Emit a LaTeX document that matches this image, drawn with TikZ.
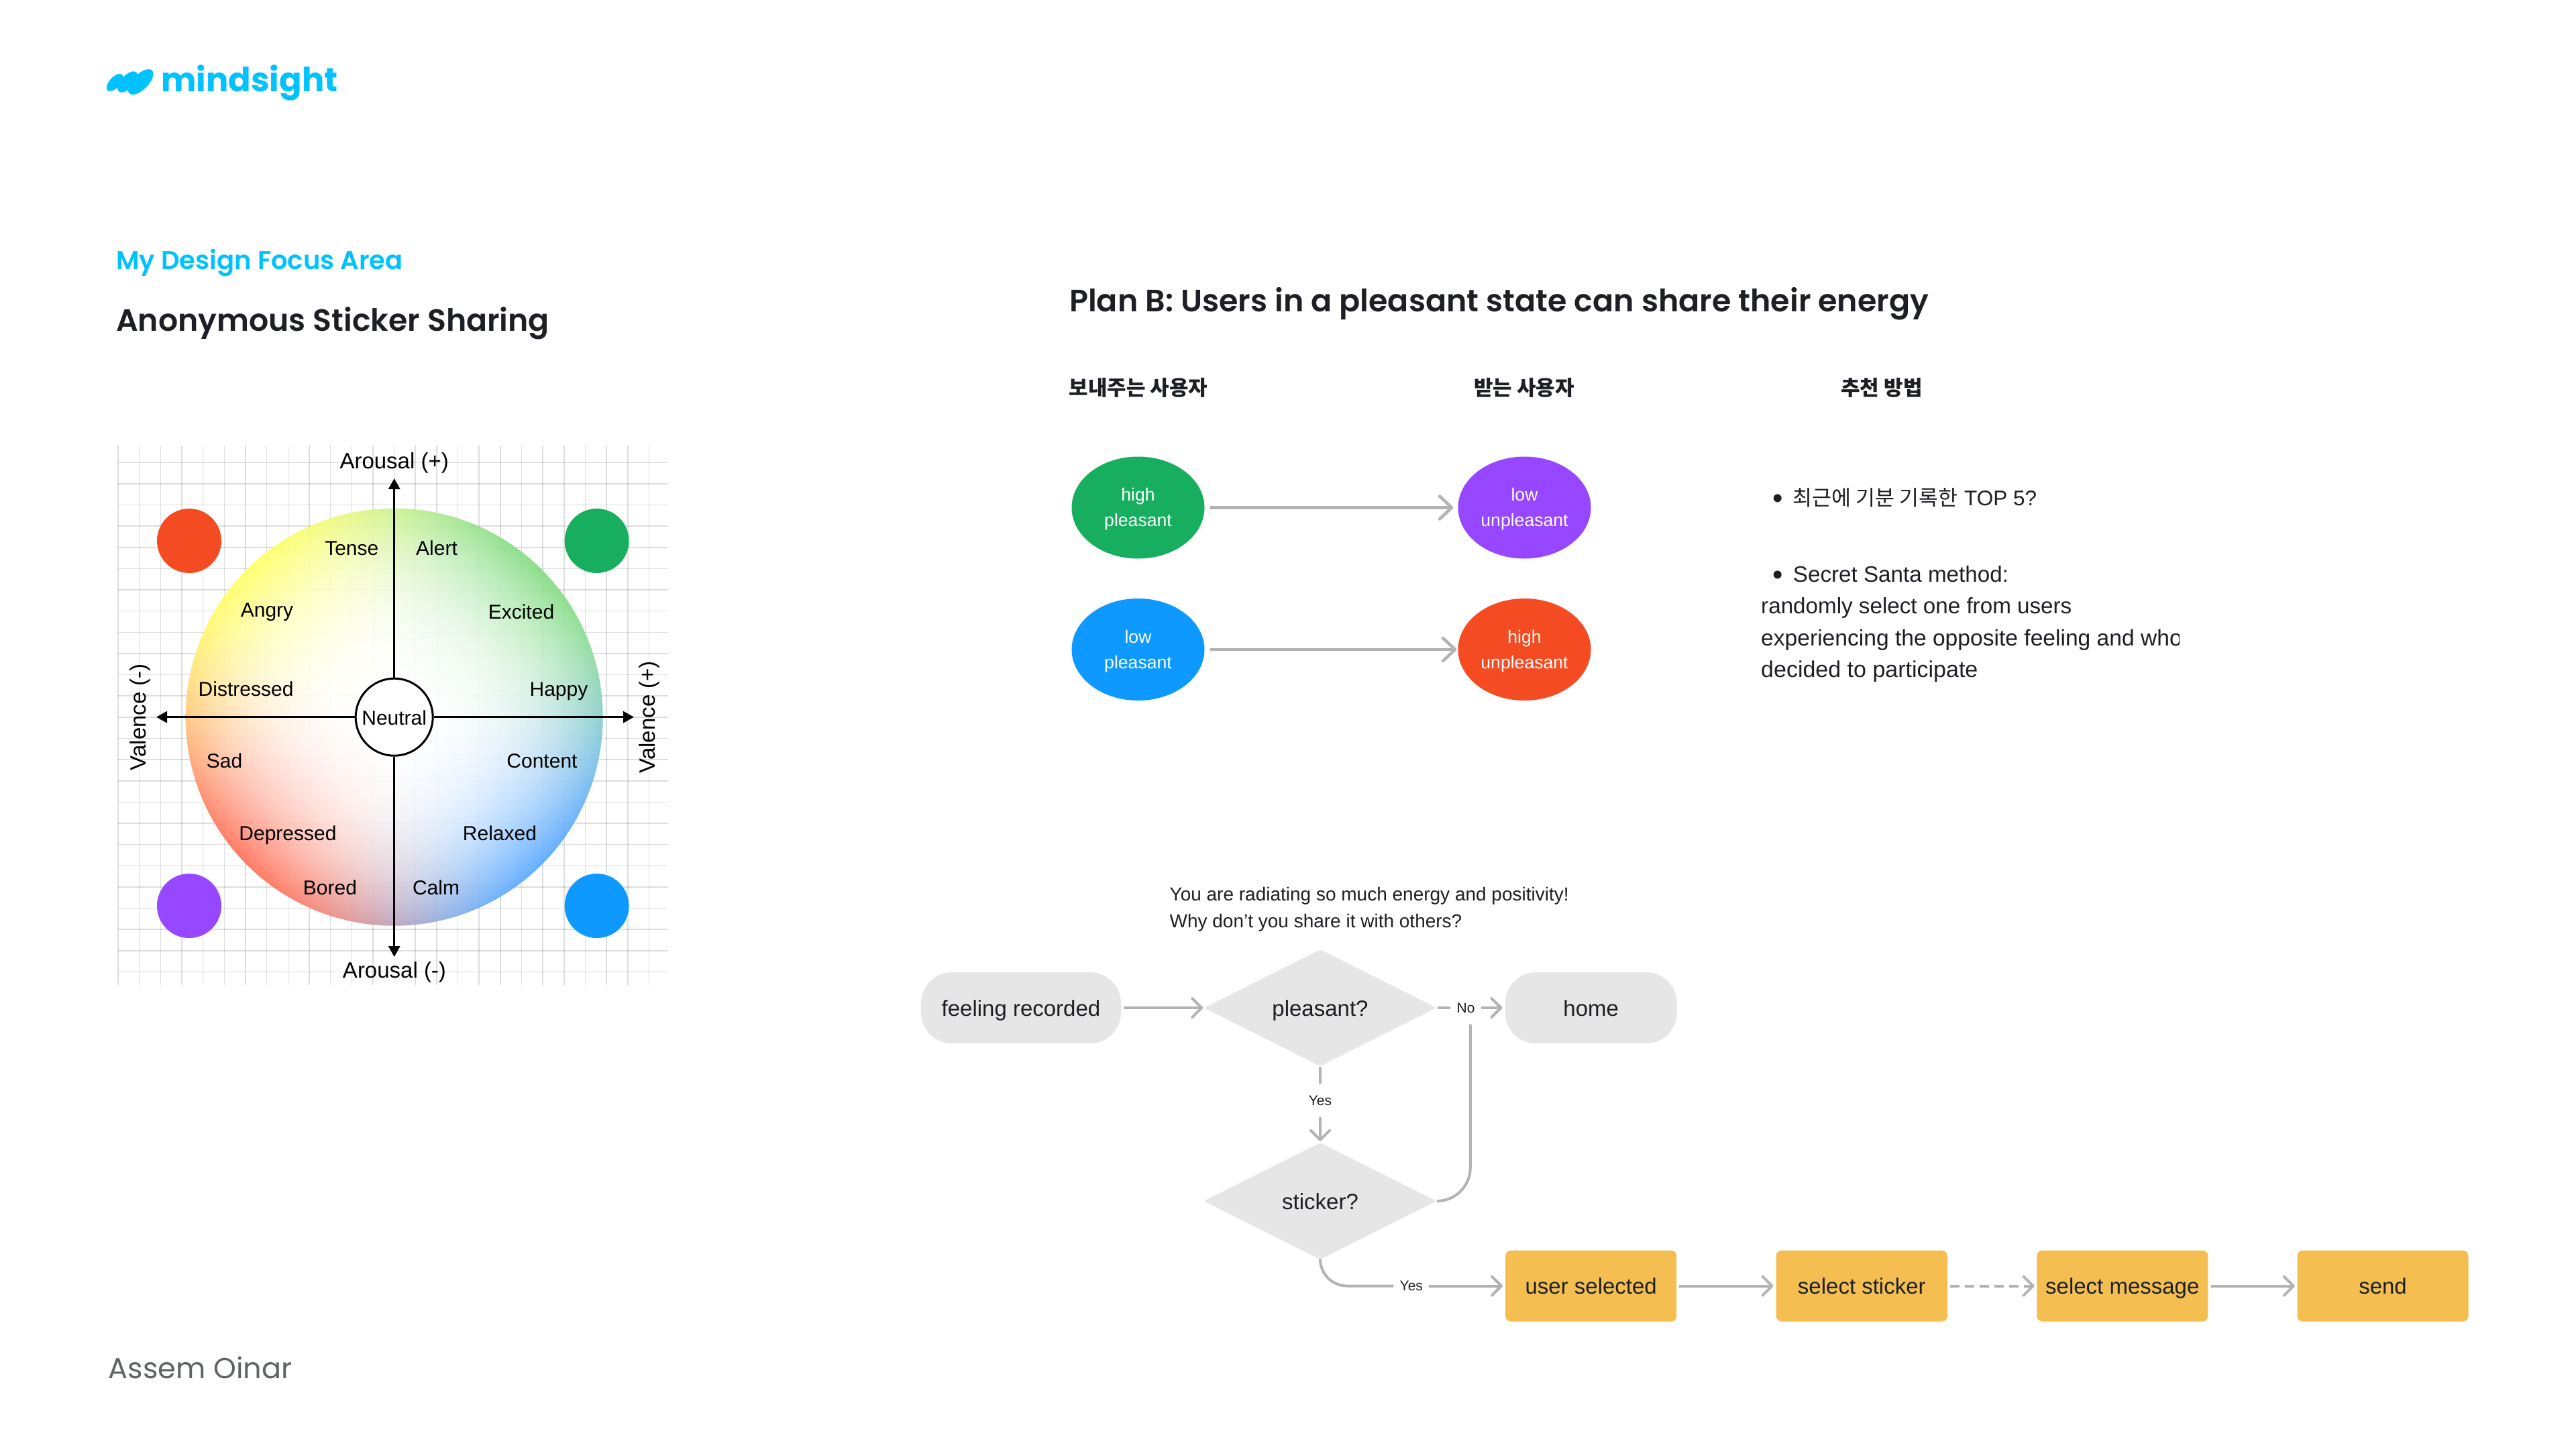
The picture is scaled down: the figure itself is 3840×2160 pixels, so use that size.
\documentclass[tikz,border=0pt]{standalone}
\usepackage{fontspec}
\usetikzlibrary{arrows.meta,shapes.geometric,calc}
\setmainfont{Liberation Sans}
\newfontfamily\headfont{Poppins SemiBold}
\newfontfamily\authorfont{Poppins}
\newfontfamily\krfont{Noto Sans CJK KR}
\newfontfamily\chartfont{Liberation Sans}
\definecolor{skyb}{HTML}{00C2FF}
\definecolor{inkc}{HTML}{1E1F24}
\definecolor{graya}{HTML}{5F6363}
\definecolor{greene}{HTML}{17AF5F}
\definecolor{purplee}{HTML}{9747FF}
\definecolor{bluee}{HTML}{0D99FF}
\definecolor{rede}{HTML}{F44B22}
\definecolor{boxgray}{HTML}{E6E6E6}
\definecolor{boxgold}{HTML}{F4BF50}
\definecolor{linegray}{HTML}{B3B3B3}
\newcommand{\bigdot}{\raisebox{-4pt}{\fontsize{44}{47}\selectfont •}}
\pgfdeclarefunctionalshading{quadwheel}{\pgfpoint{0bp}{0bp}}{\pgfpoint{100bp}{100bp}}{}{
50 sub 25 div exch 50 sub 25 div exch
2 copy add 0.7071 mul 3 1 roll exch sub 0.7071 mul
exch dup abs 2 copy add 2 div 2.6 exp 3 1 roll exch sub 2 div 2.6 exp
3 2 roll dup abs 2 copy add 2 div 2.6 exp 3 1 roll exch sub 2 div 2.6 exp
1 4 index 0.50 mul sub 3 index 0.00 mul sub 2 index 0.00 mul sub 1 index 0.67 mul sub
1 5 index 0.14 mul sub 4 index 0.57 mul sub 3 index 0.00 mul sub 2 index 0.35 mul sub
1 6 index 0.50 mul sub 5 index 0.67 mul sub 4 index 0.62 mul sub 3 index 0.00 mul sub
7 3 roll pop pop pop pop
}
\tikzset{
  x=1pt,y=-1pt,
  chartlabel/.style={font=\chartfont\fontsize{30}{36}\selectfont,anchor=base,inner sep=0pt,text=black},
  axislabel/.style={font=\chartfont\fontsize{33}{38}\selectfont,anchor=base,inner sep=0pt,text=black},
  dot/.style={circle,minimum size=96pt,inner sep=0pt,draw=none},
  gridline/.style={black,opacity=.13,line width=1.5pt},
  axisline/.style={black,line width=3pt,-{Triangle[length=16pt,width=17pt]}},
  collhead/.style={font=\krfont\bfseries\fontsize{31}{36}\selectfont,text=inkc,anchor=center,inner sep=0pt},
  mood/.style={ellipse,minimum width=198pt,minimum height=152pt,inner sep=0pt,text=white,align=center,
    font=\fontsize{26.6}{38}\selectfont},
  bigflow/.style={linegray,line width=4.5pt,-{Straight Barb[length=18pt,width=34pt,round]}},
  flow/.style={linegray,line width=4pt,-{Straight Barb[length=14pt,width=28pt,round]}},
  flowplain/.style={linegray,line width=4pt},
  fltext/.style={font=\fontsize{33}{40}\selectfont,text=inkc,text height=26pt,text depth=2pt,inner sep=0pt},
  pill/.style={fltext,fill=boxgray,rounded corners=46pt,minimum height=106pt},
  decision/.style={fltext,diamond,fill=boxgray,rounded corners=4pt,aspect=2,minimum width=347pt,minimum height=174pt},
  stepbox/.style={fltext,fill=boxgold,rounded corners=8pt,minimum width=255pt,minimum height=106pt},
  tinylabel/.style={font=\fontsize{21}{24}\selectfont,text=inkc,inner sep=9pt},
  bodyline/.style={font=\fontsize{33.2}{47}\selectfont,text=inkc,anchor=base west,inner sep=0pt},
  noteline/.style={font=\fontsize{28}{40}\selectfont,text=inkc,anchor=base west,inner sep=0pt},
}
\begin{document}
\begin{tikzpicture}
\useasboundingbox (0,0) rectangle (3840,2160);
\fill[white] (0,0) rectangle (3840,2160);
% logo
\fill[skyb,rotate around={47:(171.2,123)}] (171.2,123) ellipse [x radius=16pt,y radius=8pt];
\fill[skyb,rotate around={47:(190,122)}] (190,122) ellipse [x radius=19.5pt,y radius=9.5pt];
\fill[skyb,rotate around={45:(209.7,122)}] (209.7,122) ellipse [x radius=24pt,y radius=11.5pt];
\node[font=\authorfont\bfseries\fontsize{49.5}{60}\selectfont,text=skyb,anchor=base west,inner sep=0pt] (logo) at (240,136.7) {mindsight};
% titles
\node[font=\headfont\fontsize{38.5}{46}\selectfont,text=skyb,anchor=base west,inner sep=0pt] (focus) at (173,401.7) {My Design Focus Area};
\node[font=\headfont\fontsize{45.8}{54}\selectfont,text=inkc,anchor=base west,inner sep=0pt] (anon) at (173,493) {Anonymous Sticker Sharing};
\node[font=\headfont\fontsize{46}{54}\selectfont,text=inkc,anchor=base west,inner sep=0pt] (planb) at (1594,464) {Plan B: Users in a pleasant state can share their energy};
\node[font=\authorfont\fontsize{43}{54}\selectfont,text=graya,anchor=base west,inner sep=0pt] (author) at (161.7,2054) {Assem Oinar};
% chart
\foreach \k in {0,...,25} \draw[gridline] ({176+31.66*\k},664.4) -- ({176+31.66*\k},1468);
\foreach \k in {0,...,24} \draw[gridline] (176,{689.3+31.63*\k}) -- (996,{689.3+31.63*\k});
\shade[shading=quadwheel,fill opacity=.9] (587.7,1068.7) circle [radius=311pt];
\node[dot,fill=rede] (dotred) at (282,806) {};
\node[dot,fill=greene] (dotgreen) at (889.6,806) {};
\node[dot,fill=purplee] (dotpurple) at (282,1350) {};
\node[dot,fill=bluee] (dotblue) at (889.6,1350) {};
\node[circle,draw=black,line width=3pt,fill=white,minimum size=115pt,inner sep=0pt] (neutral) at (587.7,1068.7) {};
\coordinate (axtop) at (587.7,713);
\coordinate (axbot) at (587.7,1426);
\coordinate (axleft) at (233,1068.7);
\coordinate (axright) at (945,1068.7);
\draw[axisline] (neutral) -- (axtop);
\draw[axisline] (neutral) -- (axbot);
\draw[axisline] (neutral) -- (axleft);
\draw[axisline] (neutral) -- (axright);
\node[chartlabel] (lneutral) at (587.7,1080) {Neutral};
\node[axislabel] (larop) at (587.7,698.5) {Arousal (+)};
\node[axislabel] (laron) at (588,1457.3) {Arousal (-)};
\node[chartlabel] (ltense) at (524.3,827) {Tense};
\node[chartlabel] (lalert) at (651,827) {Alert};
\node[chartlabel] (langry) at (398,919) {Angry};
\node[chartlabel] (lexcited) at (777,922.4) {Excited};
\node[chartlabel] (ldistressed) at (366.6,1037.3) {Distressed};
\node[chartlabel] (lhappy) at (833,1037.3) {Happy};
\node[chartlabel] (lsad) at (334.6,1144) {Sad};
\node[chartlabel] (lcontent) at (808,1144) {Content};
\node[chartlabel] (ldepressed) at (429,1252.5) {Depressed};
\node[chartlabel] (lrelaxed) at (745,1252.5) {Relaxed};
\node[chartlabel] (lbored) at (492,1333.8) {Bored};
\node[chartlabel] (lcalm) at (650,1333.8) {Calm};
\node[axislabel,rotate=90] (lvaln) at (217,1068.7) {Valence (-)};
\node[axislabel,rotate=90] (lvalp) at (976,1068.7) {Valence (+)};
% plan B columns
\node[collhead] (headsend) at (1697,578) {보내주는 사용자};
\node[collhead] (headrecv) at (2272,578) {받는 사용자};
\node[collhead] (headhow) at (2805,578) {추천 방법};
\node[mood,fill=greene] (hp) at (1696.5,756.5) {\rule{0pt}{24pt}high\\pleasant};
\node[mood,fill=purplee] (lu) at (2272.5,756.5) {\rule{0pt}{24pt}low\\unpleasant};
\node[mood,fill=bluee] (lp) at (1696.5,968) {\rule{0pt}{24pt}low\\pleasant};
\node[mood,fill=rede] (hu) at (2272.5,968) {\rule{0pt}{24pt}high\\unpleasant};
\draw[bigflow,shorten <=8pt,shorten >=7pt] (hp) -- (lu);
\draw[bigflow,shorten <=8pt,shorten >=2pt] (lp) -- (hu);
% notes
\node[bodyline] (n1) at (2642,753.5) {\makebox[30.7pt][l]{\bigdot}{\krfont\fontsize{31.5}{47}\selectfont 최근에 기분 기록한} {\fontsize{31.5}{47}\selectfont TOP 5?}};
\node[bodyline] (n2) at (2642,867) {\makebox[30.7pt][l]{\bigdot}Secret Santa method:};
\node[bodyline] (n3) at (2625,914.5) {randomly select one from users};
\begin{scope}
\clip (2600,920) rectangle (3248,980);
\node[bodyline,font=\fontsize{33.6}{47}\selectfont] (n4) at (2625,962) {experiencing the opposite feeling and who};
\end{scope}
\node[bodyline,font=\fontsize{34}{47}\selectfont] (n5) at (2625,1009) {decided to participate};
\node[noteline] (q1) at (1743.4,1342) {You are radiating so much energy and positivity!};
\node[noteline] (q2) at (1743.4,1382) {Why don’t you share it with others?};
% flow
\node[pill,minimum width=298pt] (felt) at (1522,1502) {feeling recorded};
\node[decision] (pleas) at (1968,1502) {pleasant?};
\node[pill,minimum width=256pt] (home) at (2371.7,1502) {home};
\node[decision] (stick) at (1968,1790) {sticker?};
\node[stepbox] (user) at (2371.7,1916.5) {user selected};
\node[stepbox] (sel1) at (2775.3,1916.5) {select sticker};
\node[stepbox] (sel2) at (3163.8,1916.5) {select message};
\node[stepbox] (send) at (3552,1916.5) {send};
\node[tinylabel] (lno) at (2185,1502) {No};
\node[tinylabel,inner sep=0pt,minimum height=49pt] (lyes1) at (1968,1640) {Yes};
\node[tinylabel] (lyes2) at (2103.8,1916.5) {Yes};
\coordinate (mergeend) at (2191.8,1526.6);
\draw[flow,shorten <=4pt,shorten >=1pt] (felt) -- (pleas);
\draw[flowplain,shorten <=1pt] (pleas) -- (lno);
\draw[flow,shorten >=4pt] (lno) -- (home);
\draw[flowplain,shorten <=1pt] (pleas) -- (lyes1);
\draw[flow,shorten >=2pt] (lyes1) -- (stick);
\draw[flowplain,rounded corners=50pt,shorten <=1pt] (stick.east) -| (mergeend);
\draw[flowplain,rounded corners=40pt,shorten <=1pt] (stick.south) |- (lyes2.west);
\draw[flow,shorten >=4pt] (lyes2) -- (user);
\draw[flow,shorten <=3.5pt,shorten >=4pt] (user) -- (sel1);
\draw[flow,dash pattern=on 14pt off 8pt,shorten <=3.5pt,shorten >=3.5pt] (sel1) -- (sel2);
\draw[flow,shorten <=4pt,shorten >=3.5pt] (sel2) -- (send);
\end{tikzpicture}
\end{document}
